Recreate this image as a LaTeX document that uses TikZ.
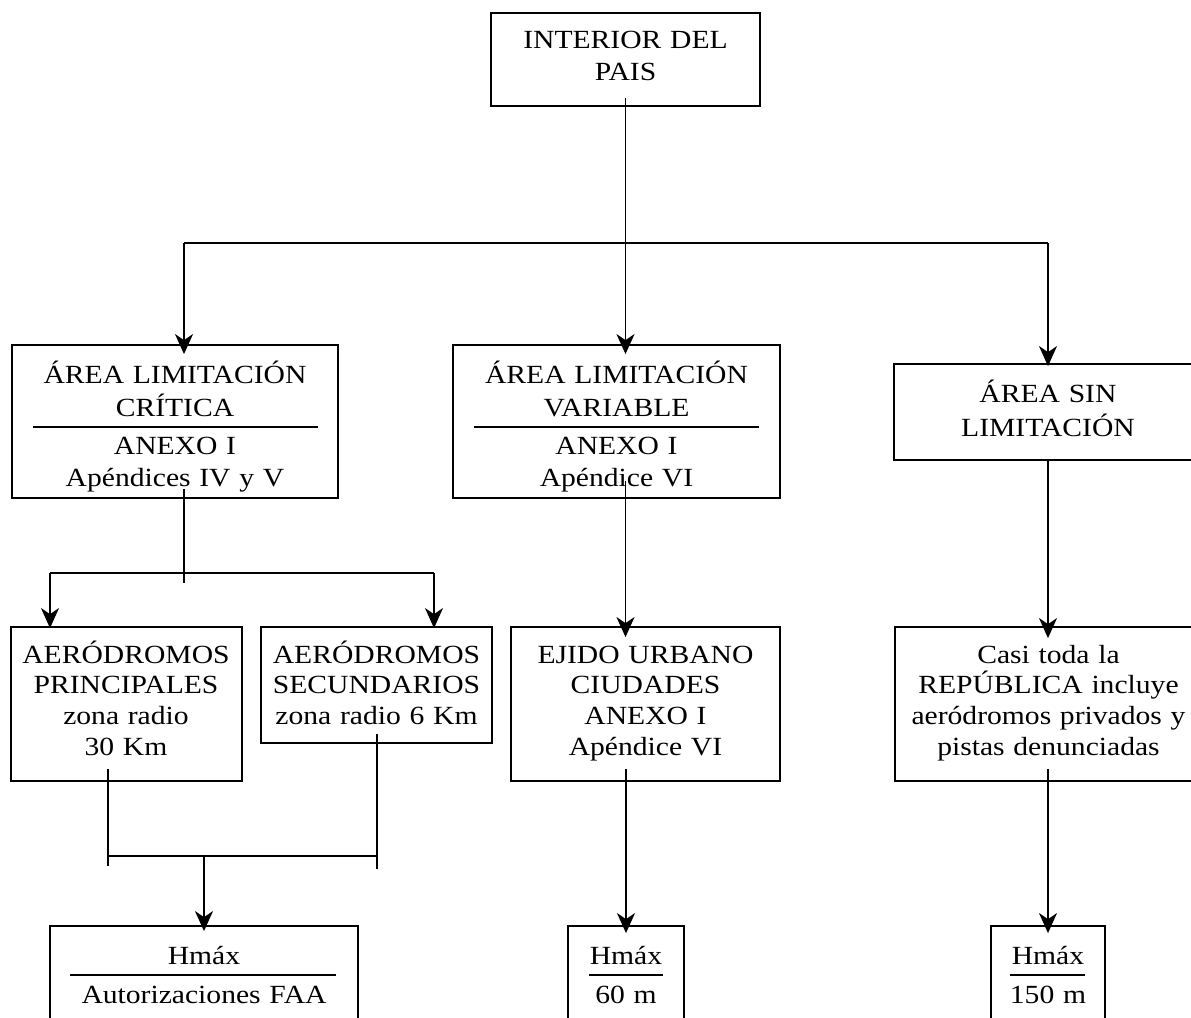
\documentclass[tikz,border=0pt]{standalone}
\usepackage{fontspec}
\setmainfont{Liberation Serif}[FakeStretch=1.13]
\usetikzlibrary{arrows.meta}
\begin{document}
\begin{tikzpicture}[x=0.5pt,y=-0.5pt,
  box/.style={draw, line width=0.9pt, rectangle, inner sep=0pt},
  txt/.style={anchor=base, text width=200pt, align=center, inner sep=0pt,
    font=\fontsize{13.1pt}{15.3pt}\selectfont},
  conn/.style={line width=0.7pt},
  arr/.style={conn, -{Stealth[length=10pt,width=9pt,inset=3pt]}, shorten >=-#1},
  arr/.default=3pt,
  sepline/.style={line width=1pt}]
\useasboundingbox (0,0) rectangle (1191,1018);
\clip (0,0) rectangle (1191,1018);
% boxes
\node[box, minimum width=134.5pt, minimum height=46.5pt] (top) at (625.5,59.5) {};
\node[box, minimum width=163pt, minimum height=76.5pt] (crit) at (175,421.5) {};
\node[box, minimum width=163.5pt, minimum height=76.5pt] (var) at (616.5,421.5) {};
\node[box, minimum width=154pt, minimum height=48pt] (sin) at (1048,412) {};
\node[box, minimum width=115.5pt, minimum height=77pt] (prin) at (126.5,704) {};
\node[box, minimum width=115.5pt, minimum height=58pt] (sec) at (376.5,685) {};
\node[box, minimum width=134.5pt, minimum height=77pt] (ejido) at (645.5,704) {};
\node[box, minimum width=153.5pt, minimum height=77pt] (casi) at (1048.5,704) {};
\node[box, minimum width=154pt, minimum height=49pt] (faa) at (204,975) {};
\node[box, minimum width=58pt, minimum height=49pt] (m60) at (626,975) {};
\node[box, minimum width=57pt, minimum height=49pt] (m150) at (1048,975) {};
% texts
\node[txt] (topT) at (625.5,48.3) {INTERIOR DEL\\[0.55pt]PAIS};
\node[txt] (critT) at (175,383.3) {ÁREA LIMITACIÓN\\[1.4pt]CRÍTICA\\[3.5pt]ANEXO I\\[0.9pt]Apéndices IV y V};
\node[txt] (varT) at (616.5,383.3) {ÁREA LIMITACIÓN\\[1.4pt]VARIABLE\\[3.5pt]ANEXO I\\[0.9pt]Apéndice VI};
\node[txt] (sinT) at (1048,402.5) {ÁREA SIN\\[1.5pt]LIMITACIÓN};
\node[txt] (prinT) at (126,663.3) {AERÓDROMOS\\PRINCIPALES\\zona radio\\30 Km};
\node[txt] (secT) at (376.5,663.3) {AERÓDROMOS\\SECUNDARIOS\\zona radio 6 Km};
\node[txt] (ejidoT) at (645.5,663.3) {EJIDO URBANO\\CIUDADES\\ANEXO I\\Apéndice VI};
\node[txt] (casiT) at (1048.5,663.3) {Casi toda la\\REPÚBLICA incluye\\aeródromos privados y\\pistas denunciadas};
\node[txt] (faaT) at (204,964.3) {Hmáx\\[4.2pt]Autorizaciones FAA};
\node[txt] (m60T) at (626,964.3) {Hmáx\\[4.2pt]60 m};
\node[txt] (m150T) at (1048,964.3) {Hmáx\\[4.2pt]150 m};
% separators
\draw[sepline] (33,427) -- (318,427);
\draw[sepline] (474,427) -- (759,427);
\draw[sepline] (70,974.5) -- (336,974.5);
\draw[sepline] (589,974.5) -- (663,974.5);
\draw[sepline] (1010,974.5) -- (1085,974.5);
% connectors, level 1
\coordinate (hl) at (184,243);
\coordinate (hr) at (sin.north |- hl);
\draw[arr=5pt] ([yshift=4.5pt]top.south) -- (top.south |- var.north);
\draw[conn] (hl) -- (hr);
\draw[arr=5pt] (hl) -- (hl |- crit.north);
\draw[arr=1.5pt] (hr) -- (hr |- sin.north);
% critical branch
\coordinate (bl) at (50,573);
\coordinate (br) at (434,573);
\draw[conn] ([yshift=5pt]crit.south -| hl) -- ++(0,94);
\draw[conn] (bl) -- (br);
\draw[arr=1pt] (bl) -- (bl |- prin.north);
\draw[arr=1pt] (br) -- (br |- sec.north);
\coordinate (j1) at (108,856);
\coordinate (j2) at (377,856);
\draw[conn] ([yshift=6.5pt]prin.south -| j1) -- ++(0,97);
\draw[conn] ([yshift=5pt]sec.south -| j2) -- ++(0,135);
\draw[conn] (j1) -- (j2);
\draw[arr] (faa.north |- j1) -- (faa.north);
% variable branch
\draw[arr=5.5pt] ([yshift=9pt]var.south -| top.south) -- (top.south |- ejido.north);
\draw[arr=4pt] ([yshift=6.5pt]ejido.south -| m60.north) -- (m60.north);
% no-limit branch
\draw[arr=6pt] (sin.south) -- (sin.south |- casi.north);
\draw[arr=4pt] ([yshift=6.5pt]casi.south -| sin.south) -- (sin.south |- m150.north);
\end{tikzpicture}
\end{document}
